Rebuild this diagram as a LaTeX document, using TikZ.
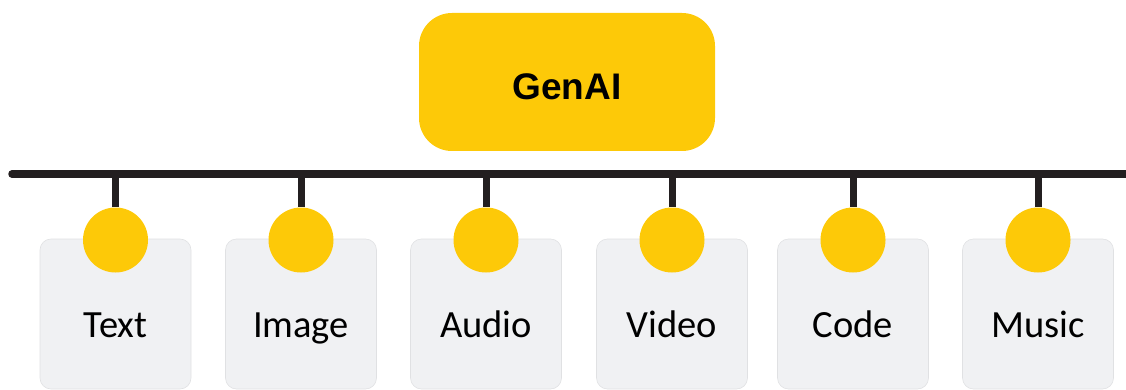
\documentclass[tikz,border=0pt]{standalone}
\usepackage{fontspec}
\setmainfont{Carlito}
\newfontfamily\titlefont{Liberation Sans}
\definecolor{gold}{HTML}{FDC908}
\definecolor{cardfill}{HTML}{F0F1F3}
\definecolor{cardline}{HTML}{E0E1E3}
\definecolor{busline}{HTML}{231F20}
\tikzset{
  titlebox/.style={fill=gold, rounded corners=33pt, minimum width=296pt, minimum height=138pt, inner sep=0pt, text height=35pt, text depth=0pt, font=\titlefont\bfseries\fontsize{37}{40}\selectfont},
  cardbox/.style={fill=cardfill, draw=cardline, line width=0.6pt, rounded corners=11pt, minimum width=151pt, minimum height=150pt, inner sep=0pt},
  cardlabel/.style={inner sep=0pt, anchor=base, font=\fontsize{38.5}{40}\selectfont},
  dot/.style={circle, fill=gold, minimum size=65pt, inner sep=0pt},
  bus/.style={draw=busline, line width=7.5pt, line cap=round},
  stem/.style={draw=busline, line width=7pt}
}
\begin{document}
\begin{tikzpicture}[x=1pt,y=-1pt]
\useasboundingbox (0,0) rectangle (1126,390);
\node[titlebox] (genai) at (567,82) {GenAI};
\coordinate (busL) at (12,174);
\coordinate (busR) at (1130,174);
\draw[bus] (busL) -- (busR);
\foreach \n/\x/\lab in {1/115.5/Text, 2/301/Image, 3/486/Audio, 4/672/Video, 5/853/Code, 6/1038/Music}{
  \coordinate (s\n) at (\x,174);
  \node[cardbox] (c\n) at (\x,314) {};
  \node[cardlabel] (t\n) at (\x,337) {\lab};
  \node[dot] (d\n) at (\x,240) {};
  \draw[stem] (s\n) -- (d\n.north);
}
\end{tikzpicture}
\end{document}
